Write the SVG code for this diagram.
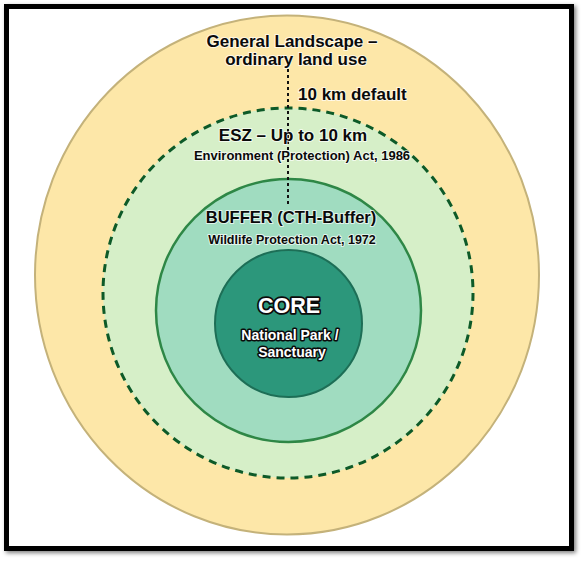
<svg xmlns="http://www.w3.org/2000/svg" width="587" height="565" viewBox="0 0 587 565">
<defs>
<filter id="sh" x="-5%" y="-5%" width="110%" height="110%">
<feDropShadow dx="2" dy="2" stdDeviation="2" flood-color="#000" flood-opacity="0.5"/>
</filter>
</defs>
<style>
text{font-family:"Liberation Sans","Arial",sans-serif;font-weight:700;text-anchor:middle;paint-order:stroke;stroke-linejoin:round}
.dk{fill:#0a0a0a;stroke:#fff;stroke-width:2;stroke-opacity:0.7}
.wt{fill:#fff;stroke:#0b0b0b;stroke-width:3.5}
.t1{font-size:17px}
</style>
<rect x="0" y="0" width="587" height="565" fill="#fff"/>
<rect x="6.5" y="6.5" width="565" height="542" fill="#fff" stroke="#000" stroke-width="5" filter="url(#sh)"/>
<g id="general">
<ellipse cx="287" cy="275" rx="252" ry="259.5" fill="#FDE7A8" stroke="#C4B27A" stroke-width="2"/>
</g>
<g id="esz">
<circle cx="288" cy="293" r="185" fill="#D6EFC8" stroke="#0D5A28" stroke-width="3" stroke-dasharray="8 6"/>
</g>
<g id="buffer">
<ellipse cx="288.5" cy="310.5" rx="132.5" ry="131.5" fill="#A0DCC0" stroke="#2E8746" stroke-width="2.5"/>
</g>
<g id="core">
<circle cx="288.5" cy="323.5" r="73.5" fill="#2C977B" stroke="#1D6E56" stroke-width="2"/>
</g>
<g id="connectors">
<line x1="288" y1="69" x2="288" y2="206" stroke="#111" stroke-width="2" stroke-dasharray="3 3"/>
</g>
<g id="labels">
<text class="dk t1" x="292" y="47">General Landscape –</text>
<text class="dk t1" x="296" y="65">ordinary land use</text>
<text class="dk t1" x="298" y="100" style="text-anchor:start">10 km default</text>
<text class="dk t1" x="293" y="141">ESZ – Up to 10 km</text>
<text class="dk" x="302" y="160" style="font-size:13px">Environment (Protection) Act, 1986</text>
<text class="dk" x="291" y="223" style="font-size:16.5px">BUFFER (CTH-Buffer)</text>
<text class="dk" x="292" y="244" style="font-size:12.5px">Wildlife Protection Act, 1972</text>
<text class="wt" x="289" y="313" style="font-size:21.5px">CORE</text>
<text class="wt" x="290" y="340" style="font-size:14px;stroke-width:3">National Park /</text>
<text class="wt" x="292" y="357" style="font-size:14px;stroke-width:3">Sanctuary</text>
</g>
</svg>
